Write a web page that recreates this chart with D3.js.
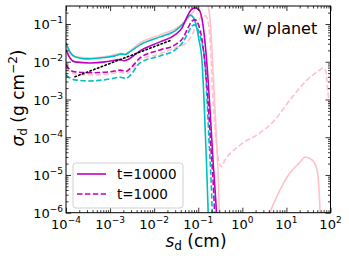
<!DOCTYPE html>
<html><head><meta charset="utf-8">
<script src="https://cdn.jsdelivr.net/npm/d3@7"></script>
<style>body{margin:0;background:#fff}svg{display:block}text{font-family:"DejaVu Sans",sans-serif}</style>
</head><body><svg id="c" width="349" height="259"></svg>
<script>
// ---- data (size s_d in cm, surface density sigma_d in g cm^-2) ----
const xTickExps = [-4,-3,-2,-1,0,1,2];
const yTickExps = [-6,-5,-4,-3,-2,-1];
const legendLabels = ["t=10000","t=1000"];
const titleText = "w/ planet";

const cyanSolid = [[1e-4,0.0316],[1.23e-4,0.0182],[1.6e-4,0.0135],[2.7e-4,0.0119],[5.9e-4,0.0126],[1.29e-3,0.0143],[1.86e-3,0.0162],[2.18e-3,0.0156],[2.83e-3,0.0185],[4.77e-3,0.028],[0.0136,0.0456],[0.0297,0.0657],[0.0451,0.101],[0.0586,0.154],[0.065,0.174],[0.076,0.154],[0.089,0.095],[0.104,0.038],[0.122,0.0099],[0.135,9.75e-4],[0.150,4.6e-5],[0.166,1.6e-6],[0.175,1.4e-7]];
const magentaSolid = [[1e-4,0.0206],[1.23e-4,0.0126],[1.6e-4,0.0099],[3.5e-4,0.0093],[7.67e-4,0.0099],[1.29e-3,0.0110],[1.68e-3,0.0115],[2.07e-3,0.0106],[2.55e-3,0.0115],[4.77e-3,0.0194],[0.0136,0.0336],[0.0297,0.0515],[0.0428,0.0789],[0.0556,0.154],[0.0685,0.237],[0.0845,0.267],[0.104,0.237],[0.128,0.095],[0.142,0.0336],[0.158,0.0083],[0.185,5.3e-4],[0.216,2.5e-5],[0.253,1.6e-6],[0.281,1.4e-7]];
const pinkSolid = [[1e-4,0.028],[1.23e-4,0.0162],[1.6e-4,0.0135],[3.5e-4,0.0126],[1e-3,0.0143],[1.68e-3,0.0165],[2.18e-3,0.0158],[2.83e-3,0.0195],[4.77e-3,0.0316],[0.0136,0.0515],[0.0297,0.0743],[0.0501,0.114],[0.076,0.209],[0.0988,0.321],[0.128,0.435],[0.158,0.362],[0.185,0.129],[0.216,0.0061],[0.253,1.56e-4],[0.296,2.2e-6],[0.312,1.9e-7]];
const pinkSolidTail = [[3.5,5e-7],[4.25,1e-6],[7.16,4e-6],[12.1,1.14e-5],[20.4,2.2e-5],[26.4,3.0e-5],[38,2.5e-5],[49.5,1.36e-5],[55,4e-6],[58,1e-6],[59,5e-7]];
const cyanDashed = [[1e-4,0.0045],[1.23e-4,0.0037],[1.6e-4,0.0033],[3.5e-4,0.0031],[1e-3,0.0035],[1.68e-3,0.0039],[2.3e-3,0.0036],[2.83e-3,0.0043],[4.77e-3,0.0093],[0.0136,0.0143],[0.0297,0.0206],[0.0451,0.0336],[0.0586,0.0582],[0.0722,0.089],[0.0845,0.095],[0.0988,0.0698],[0.116,0.038],[0.142,0.0099],[0.158,9.75e-4],[0.175,8.5e-5],[0.195,7.4e-6],[0.205,1.6e-6],[0.216,1.4e-7]];
const magentaDashed = [[1e-4,0.0083],[1.23e-4,0.0061],[1.6e-4,0.0054],[3.5e-4,0.0051],[1e-3,0.0054],[1.68e-3,0.0060],[2.3e-3,0.0055],[2.83e-3,0.0066],[4.77e-3,0.0126],[0.0136,0.0206],[0.0297,0.028],[0.0451,0.0429],[0.0586,0.0789],[0.0722,0.121],[0.0845,0.129],[0.110,0.0698],[0.135,0.0152],[0.166,9.75e-4],[0.195,4.6e-5],[0.228,2.2e-6],[0.240,4.75e-7]];
const pinkDashed = [[1e-4,0.0069],[1.23e-4,0.0054],[1.6e-4,0.0048],[3.5e-4,0.0045],[1e-3,0.0048],[1.68e-3,0.0053],[2.3e-3,0.0049],[2.83e-3,0.0056],[4.77e-3,0.0112],[0.0136,0.0162],[0.0297,0.0233],[0.0501,0.0297],[0.0722,0.0515],[0.0988,0.114],[0.128,0.174],[0.158,0.145],[0.185,0.038],[0.216,9.75e-4],[0.253,8.5e-5],[0.296,2.2e-5],[0.33,1.64e-5],[0.405,2.5e-5],[0.9,6.3e-5],[2.52,1.3e-4],[4.97,2.55e-4],[12.1,9.75e-4],[29.3,3.3e-3],[57.8,6.1e-3],[67.6,6.9e-3],[79,5.4e-3],[87.8,1.5e-3],[100,5.3e-4]];
const blackDotted = [[1.6e-4,0.0040],[0.0254,0.038]];

const series = [
  {d: pinkSolid, c: "#ffc0cb", dash: null},
  {d: pinkSolidTail, c: "#ffc0cb", dash: null},
  {d: pinkDashed, c: "#ffc0cb", dash: "5.5,2.4"},
  {d: cyanSolid, c: "#00bfbf", dash: null},
  {d: cyanDashed, c: "#00bfbf", dash: "5.5,2.4"},
  {d: magentaSolid, c: "#bf00bf", dash: null},
  {d: magentaDashed, c: "#bf00bf", dash: "5.5,2.4"},
  {d: blackDotted, c: "#000", dash: "1.5,2.5"}
];

// ---- layout ----
const L = 66, R = 330.5, T = 6, B = 212.7;
const svg = d3.select("#c");
const x = d3.scaleLog().domain([1e-4, 1e2]).range([L, R]);
const y = d3.scaleLog().domain([1e-6, 0.3]).range([B, T]);

svg.append("defs").append("clipPath").attr("id","clip")
  .append("rect").attr("x",L).attr("y",T).attr("width",R-L).attr("height",B-T);

const line = d3.line().x(d=>x(d[0])).y(d=>y(d[1])).curve(d3.curveMonotoneX);
const gl = svg.append("g").attr("clip-path","url(#clip)");
series.forEach(s=>{
  gl.append("path").attr("d", line(s.d)).attr("fill","none")
    .attr("stroke", s.c).attr("stroke-width", 1.6)
    .attr("stroke-dasharray", s.dash).attr("stroke-linecap", s.c==="#000"?"round":"butt");
});

// ---- ticks ----
const xMaj = xTickExps.map(e=>Math.pow(10,e));
const xMin = []; for (let e=-4;e<2;e++) for (let k=2;k<10;k++) xMin.push(k*Math.pow(10,e));
const yMaj = yTickExps.map(e=>Math.pow(10,e));
const yMin = []; for (let e=-6;e<0;e++) for (let k=2;k<10;k++){const v=k*Math.pow(10,e); if (v<=0.3) yMin.push(v);}

function ax(gen, scale, vals, size, tr){
  const g = svg.append("g").attr("transform", tr)
    .call(gen(scale).tickValues(vals).tickSize(size).tickFormat(""));
  g.select(".domain").remove();
  g.selectAll("line").attr("stroke","#000").attr("stroke-width",0.8);
}
ax(d3.axisBottom, x, xMaj, -5, `translate(0,${B})`);
ax(d3.axisBottom, x, xMin, -2.5, `translate(0,${B})`);
ax(d3.axisTop, x, xMaj, -5, `translate(0,${T})`);
ax(d3.axisTop, x, xMin, -2.5, `translate(0,${T})`);
ax(d3.axisLeft, y, yMaj, -5, `translate(${L},0)`);
ax(d3.axisLeft, y, yMin, -2.5, `translate(${L},0)`);
ax(d3.axisRight, y, yMaj, -5, `translate(${R},0)`);
ax(d3.axisRight, y, yMin, -2.5, `translate(${R},0)`);

svg.append("rect").attr("x",L).attr("y",T).attr("width",R-L).attr("height",B-T)
  .attr("fill","none").attr("stroke","#000").attr("stroke-width",1);

// tick labels
function powLabel(g, e){
  g.append("tspan").text("10");
  g.append("tspan").attr("dy",-6).attr("font-size",9).text(e<0?"\u2212"+(-e):String(e));
}
xTickExps.forEach(e=>{
  const t = svg.append("text").attr("x", x(Math.pow(10,e))).attr("y", 228.5)
    .attr("text-anchor","middle").attr("font-size",13);
  powLabel(t,e);
});
yTickExps.forEach(e=>{
  const t = svg.append("text").attr("x", 63).attr("y", y(Math.pow(10,e))+5.3)
    .attr("text-anchor","end").attr("font-size",13);
  powLabel(t,e);
});

// axis labels
const xl = svg.append("text").attr("x",196).attr("y",247).attr("text-anchor","middle").attr("font-size",17);
xl.append("tspan").attr("font-style","italic").text("s");
xl.append("tspan").attr("dy",3).attr("font-size",12).text("d");
xl.append("tspan").attr("dy",-3).text(" (cm)");

const yl = svg.append("text").attr("transform","translate(24,98) rotate(-90)").attr("text-anchor","middle").attr("font-size",17);
yl.append("tspan").attr("font-style","italic").text("\u03c3");
yl.append("tspan").attr("dy",3).attr("font-size",12).text("d");
yl.append("tspan").attr("dy",-3).text(" (g cm");
yl.append("tspan").attr("dy",-7).attr("font-size",12).text("\u22122");
yl.append("tspan").attr("dy",7).text(")");

// title
svg.append("text").attr("x",243).attr("y",34).attr("font-size",16).text(titleText);

// legend
const lg = svg.append("g");
lg.append("rect").attr("x",73).attr("y",163).attr("width",110).attr("height",45).attr("rx",3)
  .attr("fill","#fff").attr("fill-opacity",0.8).attr("stroke","#d0d0d0").attr("stroke-width",1);
legendLabels.forEach((lab,i)=>{
  const yy = 174 + i*20;
  lg.append("line").attr("x1",77).attr("x2",106).attr("y1",yy).attr("y2",yy)
    .attr("stroke","#bf00bf").attr("stroke-width",1.6).attr("stroke-dasharray", i? "5.5,2.4": null);
  lg.append("text").attr("x",117).attr("y",yy+5).attr("font-size",13.5).text(lab);
});
</script></body></html>
